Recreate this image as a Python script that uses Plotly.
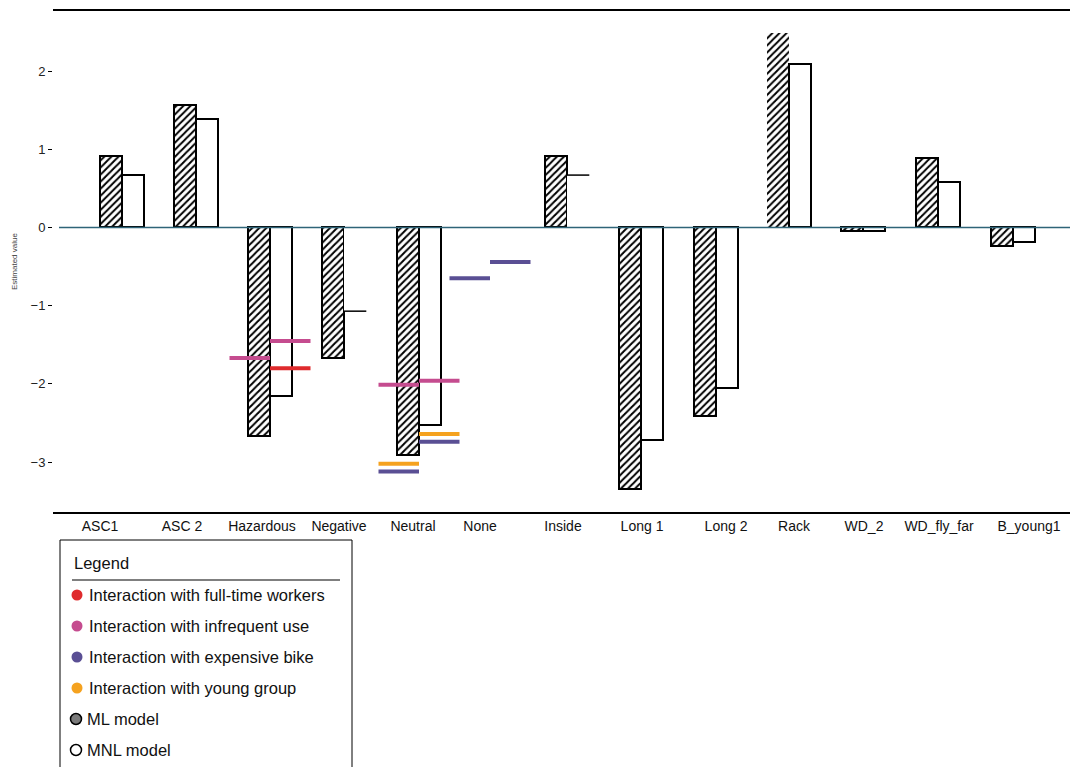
import plotly.graph_objects as go

# Parameter estimates per attribute level
categories = ["ASC1", "ASC 2", "Hazardous", "Negative", "Neutral", "None", "Inside",
              "Long 1", "Long 2", "Rack", "WD_2", "WD_fly_far", "B_young1"]
ml_values = [0.91, 1.57, -2.67, -1.67, -2.91, None, 0.91, -3.34, -2.41, 2.49, -0.04, 0.89, -0.24]
mnl_values = [0.67, 1.39, -2.15, -1.07, -2.52, None, 0.67, -2.72, -2.05, 2.09, -0.04, 0.58, -0.19]

# Interaction terms: attribute, model side, interacting group, estimate
int_category = ["Hazardous", "Hazardous", "Hazardous", "Neutral", "Neutral", "Neutral",
                "Neutral", "Neutral", "Neutral", "None", "None"]
int_model = ["ML", "MNL", "MNL", "ML", "MNL", "ML", "ML", "MNL", "MNL", "ML", "MNL"]
int_group = ["infrequent", "infrequent", "fulltime", "infrequent", "infrequent", "young",
             "expensive", "young", "expensive", "expensive", "expensive"]
int_values = [-1.67, -1.45, -1.80, -2.01, -1.96, -3.02, -3.12, -2.64, -2.74, -0.65, -0.44]

y_ticks = [-3, -2, -1, 0, 1, 2]

# ---- layout helpers (axis units are laid out on a 53..1070 horizontal scale) ----
group_pos = [122, 196, 270, 344, 419, 490, 567, 641, 716, 789, 863, 938, 1013]
label_pos = [100, 182, 262, 339, 413, 480, 563, 642, 726, 794, 864, 939, 1029]
bar_w = 22.3
seg_w = 40.5
ml_outline = [2, 2, 2, 2, 2, 0, 2, 2, 2, 0, 2, 2, 2]
mnl_outline = [2, 2, 2, 0, 2, 0, 0, 2, 2, 2, 2, 2, 2]

group_colors = {
    "fulltime": "#df2b2d",
    "infrequent": "#c54c8f",
    "expensive": "#5a4f94",
    "young": "#f5a21f",
}

fig = go.Figure()

# ML bars (hatched)
fig.add_trace(go.Bar(
    x=[p - bar_w / 2 for p in group_pos], y=ml_values, width=bar_w,
    marker=dict(color="white",
                line=dict(color="black", width=ml_outline),
                pattern=dict(shape="/", fgcolor="black", bgcolor="white", size=5,
                             solidity=0.4, fgopacity=1)),
    showlegend=False, hoverinfo="skip"))

# MNL bars (open)
fig.add_trace(go.Bar(
    x=[p + bar_w / 2 for p in group_pos], y=mnl_values, width=bar_w,
    marker=dict(color="white", line=dict(color="black", width=mnl_outline)),
    showlegend=False, hoverinfo="skip"))

# MNL estimates drawn as a single level line where the bar has no outline
for i, v in enumerate(mnl_values):
    if v is not None and mnl_outline[i] == 0:
        fig.add_trace(go.Scatter(
            x=[group_pos[i], group_pos[i] + bar_w], y=[v, v], mode="lines",
            line=dict(color="black", width=1.5), showlegend=False, hoverinfo="skip"))

# Interaction segments
for cat, side, grp, v in zip(int_category, int_model, int_group, int_values):
    p = group_pos[categories.index(cat)]
    xs = [p - seg_w, p] if side == "ML" else [p, p + seg_w]
    fig.add_trace(go.Scatter(
        x=xs, y=[v, v], mode="lines",
        line=dict(color=group_colors[grp], width=4),
        showlegend=False, hoverinfo="skip"))

y_top, y_bot = 2.781, -3.638

shapes = [
    # zero reference line
    dict(type="line", xref="x", yref="y", x0=59, x1=1070, y0=0, y1=0,
         line=dict(color="#2e6478", width=1.5)),
    # top frame line
    dict(type="line", xref="paper", yref="paper", x0=0, x1=1, y0=1, y1=1,
         line=dict(color="black", width=2)),
]

annotations = [
    dict(text="Estimated value", xref="paper", yref="paper",
         x=(14 - 53) / 1017, y=(512 - 262) / 502, textangle=-90, showarrow=False,
         font=dict(size=8, color="#444"), xanchor="center", yanchor="middle"),
]

# ---- legend panel (pixel positions converted to paper coords) ----
def px(xp):
    return (xp - 53) / 1017


def py(yp):
    return (512 - yp) / 502


legend_font = dict(size=16.5, color="#111", family="Liberation Sans, Arial")

shapes.append(dict(type="rect", xref="paper", yref="paper",
                   x0=px(60), x1=px(352), y0=py(540), y1=py(800),
                   line=dict(color="black", width=1), fillcolor="white"))
shapes.append(dict(type="line", xref="paper", yref="paper",
                   x0=px(72), x1=px(340), y0=py(580), y1=py(580),
                   line=dict(color="black", width=1.2)))
annotations.append(dict(text="Legend", xref="paper", yref="paper", x=px(72), y=py(563),
                        xanchor="left", yanchor="middle", showarrow=False, font=legend_font))

legend_items = [
    ("Interaction with full-time workers", group_colors["fulltime"], "dot"),
    ("Interaction with infrequent use", group_colors["infrequent"], "dot"),
    ("Interaction with expensive bike", group_colors["expensive"], "dot"),
    ("Interaction with young group", group_colors["young"], "dot"),
    ("ML model", "#7a7a7a", "hatch"),
    ("MNL model", "white", "open"),
]
legend_y = [595, 626, 657, 688, 719, 750]
for (label, col, kind), yy in zip(legend_items, legend_y):
    cx = 77 if kind == "dot" else 76
    r = 5.5
    shapes.append(dict(
        type="circle", xref="paper", yref="paper", xsizemode="pixel", ysizemode="pixel",
        xanchor=px(cx), yanchor=py(yy), x0=-r, x1=r, y0=-r, y1=r,
        fillcolor=col, line=dict(color=col if kind == "dot" else "black",
                                 width=0 if kind == "dot" else 1.5)))
    annotations.append(dict(
        text=label, xref="paper", yref="paper",
        x=px(87 if kind == "dot" else 85), y=py(yy), xanchor="left", yanchor="middle",
        showarrow=False, font=legend_font))

fig.update_layout(
    width=1070, height=767,
    margin=dict(l=53, r=0, t=10, b=255),
    paper_bgcolor="white", plot_bgcolor="white",
    barmode="overlay", bargap=0,
    shapes=shapes, annotations=annotations,
    xaxis=dict(range=[53, 1070], tickmode="array", tickvals=label_pos, ticktext=categories,
               showgrid=False, zeroline=False, showline=True, linecolor="black", linewidth=1.5,
               ticks="", tickfont=dict(size=14, color="#111",
                                       family="Liberation Sans Narrow, Arial Narrow, Liberation Sans")),
    yaxis=dict(range=[y_bot, y_top], tickmode="array", tickvals=y_ticks,
               ticktext=["\u22123", "\u22122", "\u22121", "0", "1", "2"],
               showgrid=False, zeroline=False, showline=False,
               ticks="outside", ticklen=4, tickcolor="black", tickwidth=1,
               tickfont=dict(size=13, color="#222", family="Liberation Sans, Arial")),
    font=dict(family="Liberation Sans, Arial"),
)

fig.write_html("out.html")
